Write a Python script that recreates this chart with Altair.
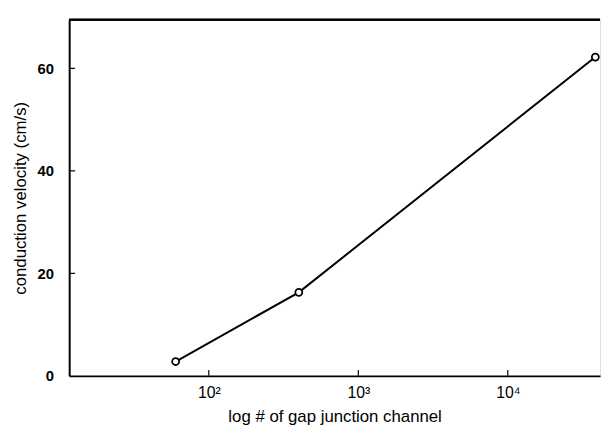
import altair as alt
import pandas as pd

# data
channels = [60, 400, 38500]
velocity = [2.8, 16.3, 62.2]

x_ticks = [100, 1000, 10000]
y_ticks = [0, 20, 40, 60]

x_domain = [11.64, 41400]
y_domain = [0, 69.5]

W, H = 538, 361
FONT = "Liberation Sans"
XT = "log # of gap junction channel"
YT = "conduction velocity (cm/s)"

df = pd.DataFrame({"channels": channels, "velocity": velocity})
df_xt = pd.DataFrame({"t": x_ticks})
df_yt = pd.DataFrame({"t": y_ticks[1:]})

xscale = alt.Scale(type="log", domain=x_domain, nice=False)
yscale = alt.Scale(domain=y_domain, nice=False, zero=False)

label_expr = ("datum.value == 100 ? '10\u00b2' : datum.value == 1000 ? '10\u00b3' : "
              "datum.value == 10000 ? '10\u2074' : ''")

x_axis = alt.Axis(title=XT, values=x_ticks, labelExpr=label_expr, grid=False,
                  ticks=False, domainColor="black", domainWidth=2,
                  labelFont=FONT, labelFontSize=16, labelColor="black",
                  labelPadding=9, titleFont=FONT, titleFontSize=17,
                  titleFontWeight="normal", titleColor="black", titlePadding=8)
y_axis = alt.Axis(title=YT, values=y_ticks, grid=False, ticks=False,
                  domainColor="black", domainWidth=2, labelFont=FONT,
                  labelFontSize=15, labelFontWeight="bold", labelColor="black",
                  labelPadding=16, titleFont=FONT, titleFontSize=17,
                  titleFontWeight="normal", titleColor="black", titlePadding=8)

def X(f):
    return alt.X(f, type="quantitative", scale=xscale, axis=x_axis, title=XT)

def Y(f):
    return alt.Y(f, type="quantitative", scale=yscale, axis=y_axis, title=YT)

line = alt.Chart(df).mark_line(color="black", strokeWidth=2).encode(
    x=X("channels"), y=Y("velocity"))
pts = alt.Chart(df).mark_point(shape="circle", size=50, filled=True, fill="white",
                               stroke="black", strokeWidth=1.8, opacity=1).encode(
    x=X("channels"), y=Y("velocity"))

xt = alt.Chart(df_xt).mark_rule(color="black", strokeWidth=1.2).encode(
    x=X("t"), y=alt.value(H), y2=alt.value(H - 6))
yt = alt.Chart(df_yt).mark_rule(color="black", strokeWidth=1.2).encode(
    y=Y("t"), x=alt.value(0), x2=alt.value(6))
top = alt.Chart(df_xt).mark_rule(color="black", strokeWidth=2).encode(
    x=alt.value(0), x2=alt.value(W), y=alt.value(0))

chart = alt.layer(line, pts, xt, yt, top).properties(
    width=W, height=H,
    padding={"left": 3, "top": 8, "right": 0, "bottom": 0},
).configure_view(strokeWidth=0, stroke="transparent").configure(background="white")

chart.save("out.html", embed_options={"renderer": "svg", "actions": False})
